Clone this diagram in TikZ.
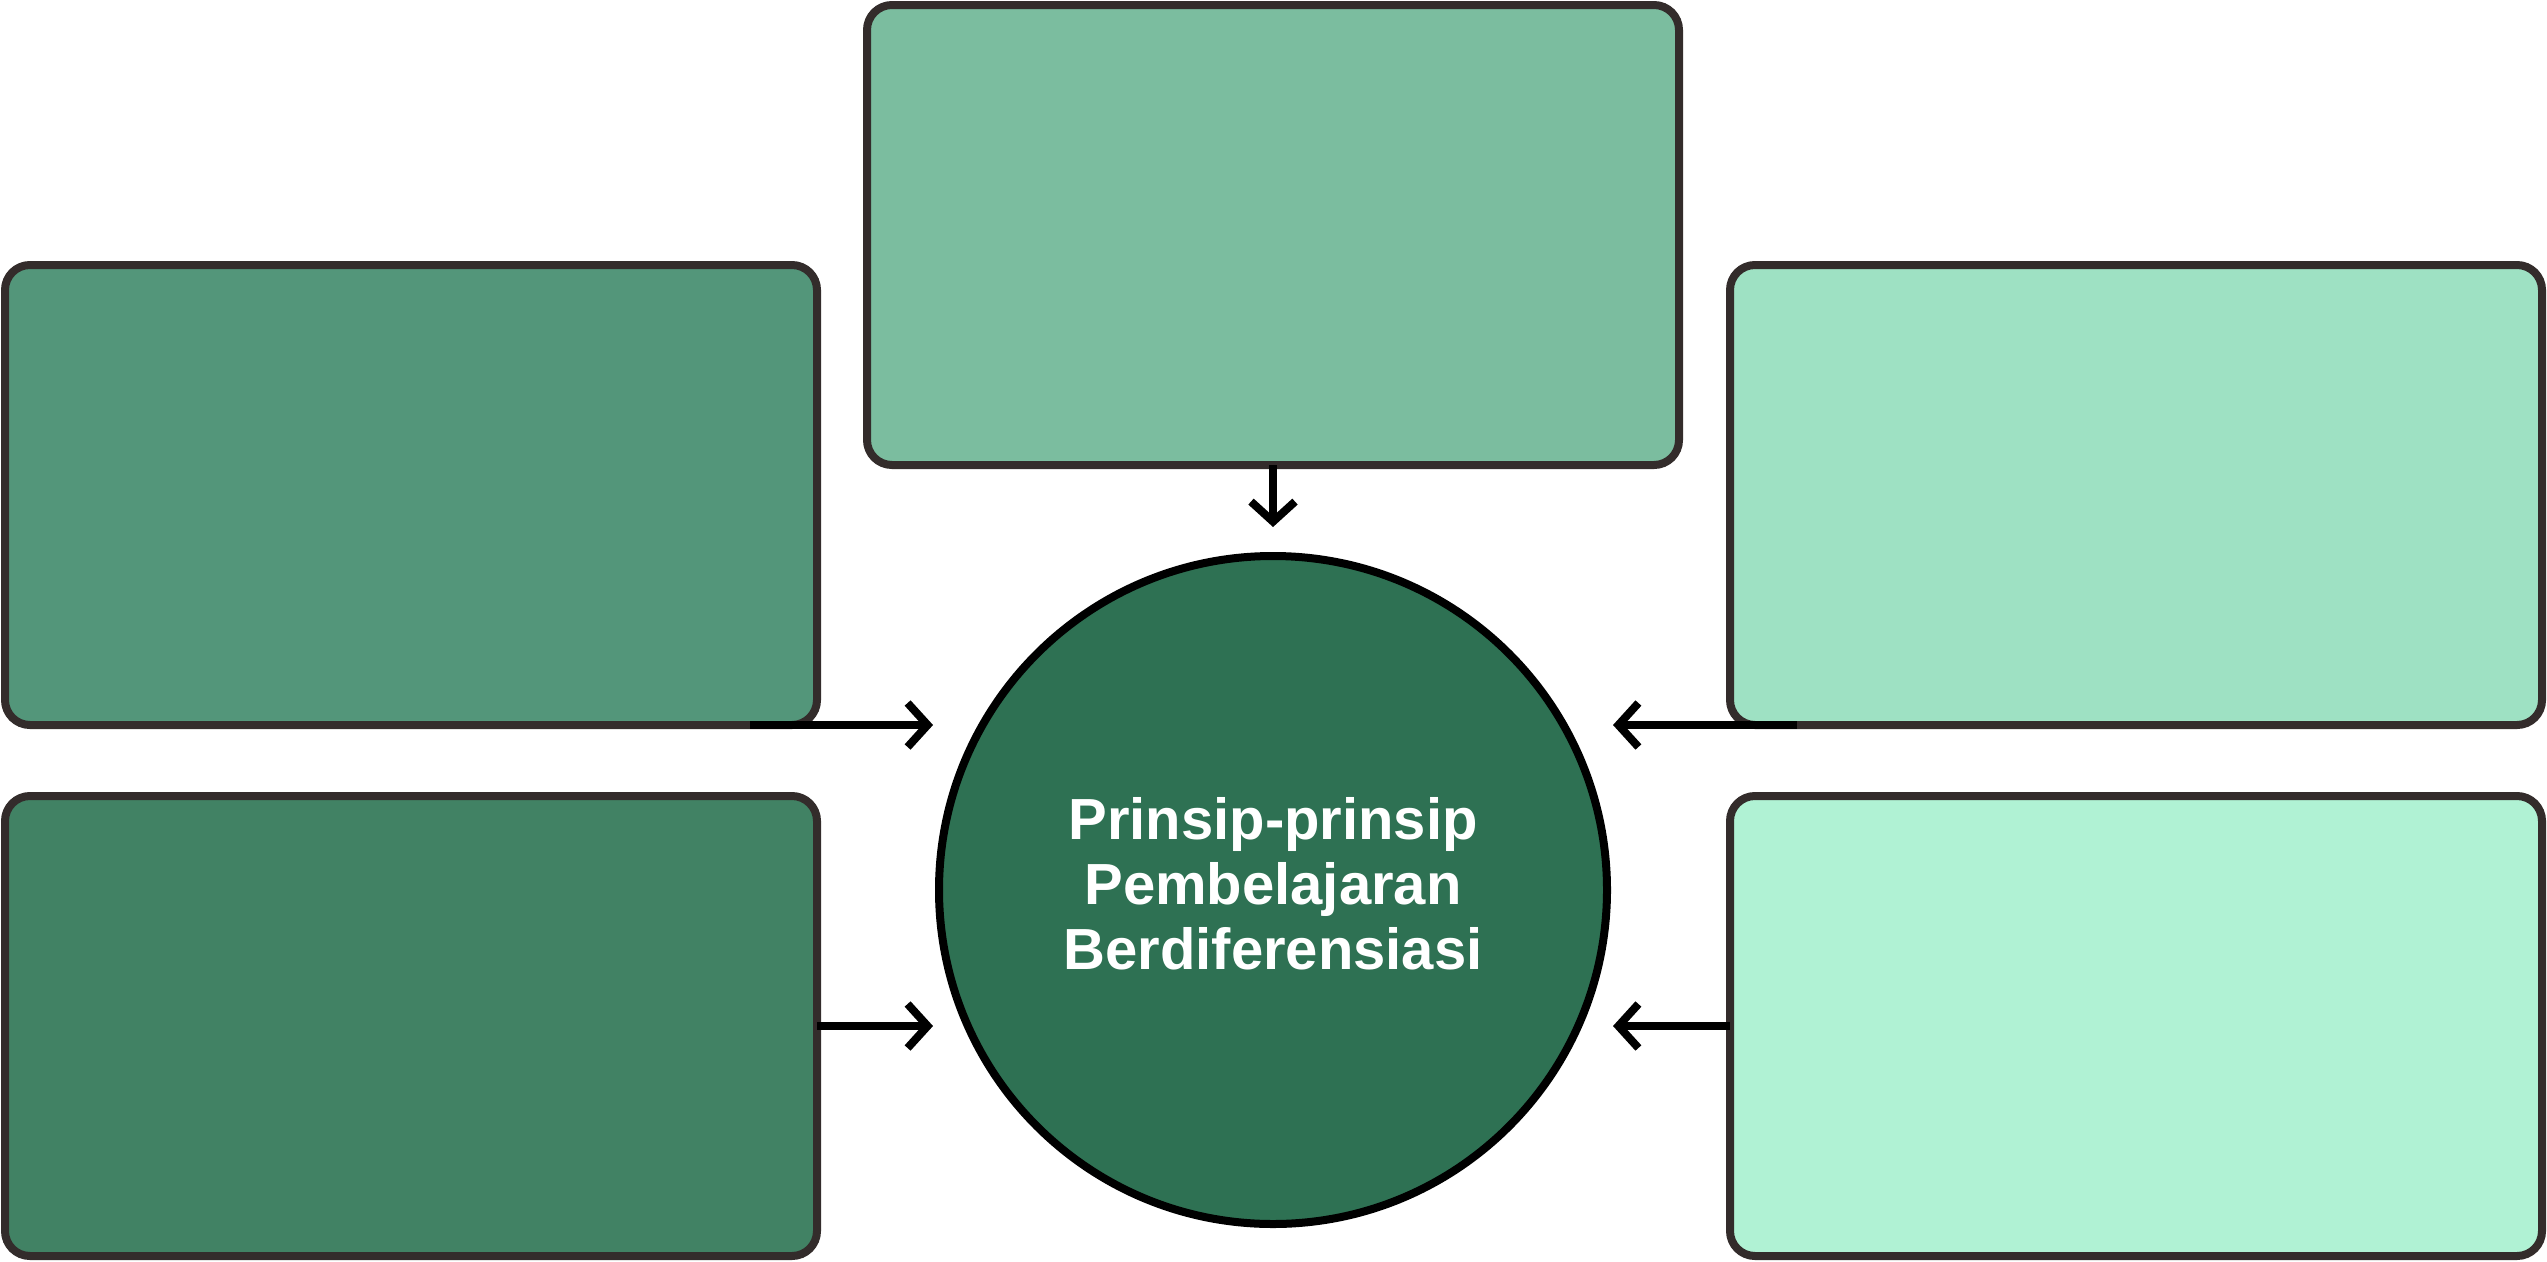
\documentclass[tikz,border=0pt]{standalone}
\usepackage{fontspec}
\setmainfont{Liberation Sans}
\usetikzlibrary{arrows.meta}
\definecolor{boxline}{HTML}{332C2B}
\definecolor{topfill}{HTML}{7BBD9F}
\definecolor{ulfill}{HTML}{53967A}
\definecolor{urfill}{HTML}{9EE1C3}
\definecolor{llfill}{HTML}{418264}
\definecolor{lrfill}{HTML}{B0F2D4}
\definecolor{hubfill}{HTML}{2E7153}
\begin{document}
\begin{tikzpicture}[x=1pt,y=-1pt,
		box/.style={draw=boxline, line width=8pt, rounded corners=25pt, minimum width=812pt, minimum height=460pt, inner sep=0pt, outer sep=0pt},
		arr/.style={line width=8pt, -{Straight Barb[length=20pt,width=44pt]}}]
		\useasboundingbox (0,0) rectangle (2547,1261);
		% Boxes
		\node[box, fill=topfill] (t) at (1273,235) {};
		\node[box, fill=ulfill] (ul) at (411,495) {};
		\node[box, fill=urfill] (ur) at (2136,495) {};
		\node[box, fill=llfill] (ll) at (411,1026) {};
		\node[box, fill=lrfill] (lr) at (2136,1026) {};
		% Centre circle
		\node[circle, draw=black, line width=8pt, fill=hubfill, minimum size=668pt, inner sep=0pt, outer sep=0pt] (c) at (1273,890) {};
		% Label
		\node[text=white, font=\fontsize{58}{65}\selectfont\bfseries, align=center] (lbl) at (1273,884) {Prinsip-prinsip\\Pembelajaran\\Berdiferensiasi};
		% Arrows
		\draw[arr, shorten >=29pt] (t.south) -- (c.north);
		\draw[arr, shorten >=6pt] ([xshift=-67pt]ul.south east) -- (ul.south east -| c.west);
		\draw[arr, shorten >=6pt] ([xshift=67pt]ur.south west) -- (ur.south west -| c.east);
		\draw[arr, shorten >=6pt] (ll.east) -- (ll.east -| c.west);
		\draw[arr, shorten >=6pt] (lr.west) -- (lr.west -| c.east);
	\end{tikzpicture}
\end{document}
